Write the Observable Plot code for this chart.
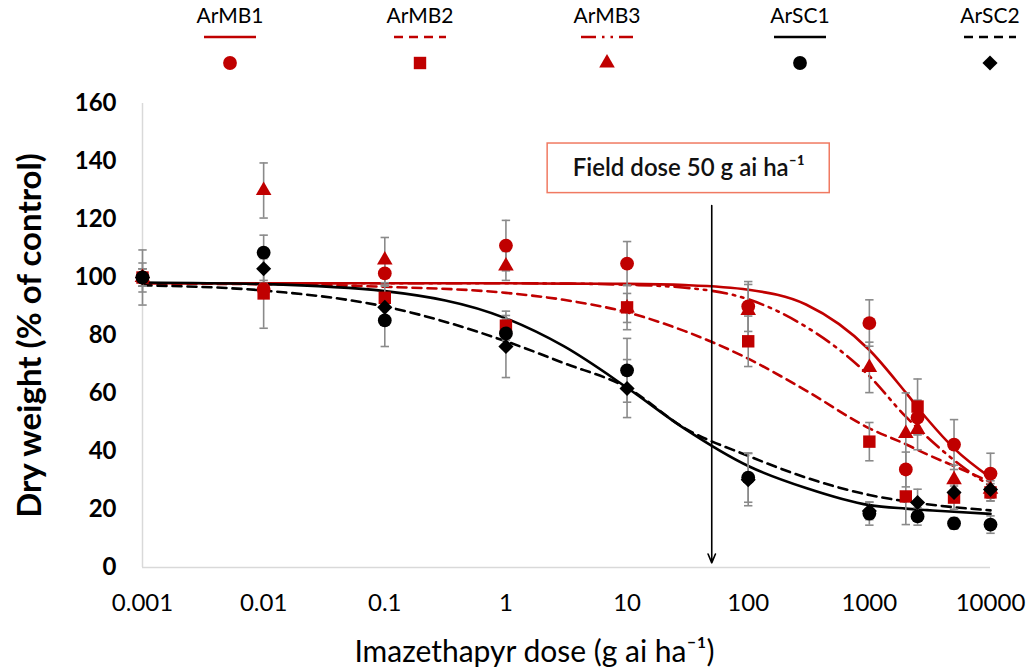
<!DOCTYPE html>
<html>
<head>
<meta charset="utf-8">
<script src="https://cdn.jsdelivr.net/npm/d3@7"></script>
<script src="https://cdn.jsdelivr.net/npm/@observablehq/plot@0.6"></script>
<style>
  body { margin: 0; background: #fff; font-family: Lato, "Open Sans", sans-serif; }
  #wrap { position: relative; width: 1026px; height: 670px; overflow: hidden; }
  #legend { position: relative; width: 1026px; height: 85px; }
  .item { position: absolute; top: 0; width: 100px; margin-left: -50px; text-align: center; }
  .item .lab { position: absolute; top: 3px; left: 0; width: 100px; font-size: 21px; line-height: 24px; color: #000; }
  .item svg { position: absolute; top: 26px; left: 0; }
</style>
</head>
<body>
<div id="wrap">
  <div id="legend"></div>
  <div id="chart"></div>
</div>
<script>
// ---------------- data ----------------
const populations = ["ArMB1", "ArMB2", "ArMB3", "ArSC1", "ArSC2"];
const doses = [0.001, 0.01, 0.1, 1, 10, 100, 1000, 2000, 2500, 5000, 10000];

const armb1 = [100, 96, 101.4, 111, 104.8, 90, 84.3, 33.8, 51.7, 42.4, 32.4];
const armb1Se = [3, 3, 4, 8.7, 7.6, 8.6, 8, 6, 6, 8.6, 7];
const armb2 = [100, 94.5, 93, 83.4, 89.7, 78, 43.4, 24.5, 55.5, 24.1, 25.9];
const armb2Se = [3, 12, 4, 5, 7.7, 8.7, 6.6, 9.7, 9.5, 4, 3];
const armb3 = [100, 130, 106, 104, 89.5, 88.6, 69, 46.2, 47.6, 30.3, 27];
const armb3Se = [3, 9.5, 7.8, 5, 5, 9, 8.7, 14, 7, 5, 4];
const arsc1 = [100, 108.6, 85.2, 80.7, 68, 31, 18.6, null, 17.6, 15.2, 14.8];
const arsc1Se = [9.5, 6, 9, 5, 11, 8.5, 4, null, 3, 2, 3];
const arsc2 = [100, 103, 89.7, 76.2, 61.7, 30.3, 19.5, null, 22.4, 25.9, 26.9];
const arsc2Se = [5, 5, 5, 10.7, 10, 9, 3, null, 4.6, 3, 3];

// fitted dose-response curves
const curveDoses = [0.001, 0.01, 0.1, 1, 3, 10, 30, 100, 300, 1000, 2000, 3000, 5000, 10000];
const armb1Fit = [98, 98, 98, 98, 97.9, 97.8, 97.4, 95.8, 90.7, 75, 60.3, 51.2, 41.1, 31];
const armb2Fit = [97.9, 97.7, 96.8, 94.7, 92.3, 88, 81.5, 72, 61, 48, 42.5, 39, 35, 29.5];
const armb3Fit = [98, 98, 98, 98, 97.9, 97.5, 96.5, 92.5, 83, 66, 52, 45, 37, 28];
const arsc1Fit = [98.3, 97.7, 95.3, 85.9, 76.3, 62, 47.8, 35, 27.4, 21.5, 20.3, 19.8, 19.2, 18.5];
const arsc2Fit = [97.3, 95.5, 90, 78, 70.5, 62, 48, 38.5, 31, 25, 22.8, 21.8, 20.8, 19.7];

const xTicks = [0.001, 0.01, 0.1, 1, 10, 100, 1000, 10000];
const yTicks = [0, 20, 40, 60, 80, 100, 120, 140, 160];

const fieldDose = 50;
const fieldLabel = "Field dose 50 g ai ha⁻¹";
const xTitle = "Imazethapyr dose (g ai ha⁻¹)";
const yTitle = "Dry weight (% of control)";

// ---------------- styling ----------------
const red = "#c00000";
const series = [
  {name: "ArMB1", mean: armb1, se: armb1Se, fit: armb1Fit, color: red, symbol: "circle", r: 6.9, dash: null, legendX: 230},
  {name: "ArMB2", mean: armb2, se: armb2Se, fit: armb2Fit, color: red, symbol: "square", r: 7.0, dash: "9,6", legendX: 420},
  {name: "ArMB3", mean: armb3, se: armb3Se, fit: armb3Fit, color: red, symbol: "triangle", r: 5.8, dash: "15,6,2.5,6,2.5,6", legendX: 607},
  {name: "ArSC1", mean: arsc1, se: arsc1Se, fit: arsc1Fit, color: "#000", symbol: "circle", r: 6.9, dash: null, legendX: 800},
  {name: "ArSC2", mean: arsc2, se: arsc2Se, fit: arsc2Fit, color: "#000", symbol: "diamond2", r: 6.8, dash: "9,6", legendX: 990}
];

const points = series.flatMap(s => doses.map((d, i) => ({pop: s.name, dose: d, mean: s.mean[i], se: s.se[i]})).filter(p => p.mean != null));
const fits = series.flatMap(s => curveDoses.map((d, i) => ({pop: s.name, dose: d, value: s.fit[i]})));

const capSymbol = {
  draw(context, size) {
    const r = Math.sqrt(size / Math.PI);
    context.moveTo(-r, 0);
    context.lineTo(r, 0);
  }
};

const errColor = "#8a8a8a";
const drawOrder = ["ArMB1", "ArMB3", "ArMB2", "ArSC1", "ArSC2"];

const marks = [
  Plot.ruleY([0], {stroke: "#d9d9d9", strokeWidth: 1.5}),
  Plot.ruleX([xTicks[0]], {stroke: "#d9d9d9", strokeWidth: 1.5}),
  Plot.axisY({ticks: yTicks, tickSize: 0, tickPadding: 26, fontSize: 24, fontWeight: "bold", label: null}),
  Plot.axisX({ticks: xTicks, tickSize: 0, tickPadding: 26, fontSize: 24, label: null, tickFormat: d => String(d)}),
  Plot.text([yTitle], {frameAnchor: "left", textAnchor: "middle", lineAnchor: "middle", rotate: -90, dx: -112, fontSize: 33, fontWeight: "bold"}),
  Plot.text([xTitle], {frameAnchor: "bottom", textAnchor: "middle", lineAnchor: "middle", dx: -32, dy: 85, fontSize: 30}),
  ...series.map(s => Plot.line(fits.filter(f => f.pop === s.name), {
    x: "dose", y: "value", stroke: s.color, strokeWidth: 2.6, strokeDasharray: s.dash, curve: "monotone-x"
  })),
  Plot.ruleX(points, {x: "dose", y1: d => d.mean - d.se, y2: d => d.mean + d.se, stroke: errColor, strokeWidth: 1.6}),
  Plot.dot(points, {x: "dose", y: d => d.mean + d.se, symbol: capSymbol, r: 4.2, stroke: errColor, strokeWidth: 1.6, fill: "none"}),
  Plot.dot(points, {x: "dose", y: d => d.mean - d.se, symbol: capSymbol, r: 4.2, stroke: errColor, strokeWidth: 1.6, fill: "none"}),
  ...drawOrder.map(n => series.find(s => s.name === n)).map(s => Plot.dot(points.filter(p => p.pop === s.name), {
    x: "dose", y: "mean", symbol: s.symbol, r: s.r, fill: s.color, stroke: "none"
  })),
  Plot.arrow([fieldDose], {x1: d => d, x2: d => d, y1: 124.8, y2: 1.6, stroke: "#000", strokeWidth: 1.6, headLength: 9, headAngle: 45}),
  Plot.rect([fieldLabel], {x1: 2.21, x2: 471, y1: 129.1, y2: 146.2, fill: "#fff", stroke: "#f07a62", strokeWidth: 1.5}),
  Plot.text([fieldLabel], {x: 32.3, y: 137.7, fontSize: 24, fontWeight: 600, fill: "#111"})
];

const chart = Plot.plot({
  width: 1026,
  height: 585,
  marginLeft: 142,
  marginRight: 36,
  marginTop: 18,
  marginBottom: 103,
  style: {fontFamily: "Lato, 'Open Sans', sans-serif", color: "#000", background: "#fff", overflow: "visible"},
  x: {type: "log", domain: [0.001, 10000]},
  y: {domain: [0, 160]},
  marks
});
document.getElementById("chart").appendChild(chart);

// ---------------- legend ----------------
const legend = d3.select("#legend");
const symbolTypes = {circle: d3.symbolCircle, square: d3.symbolSquare, triangle: d3.symbolTriangle, diamond2: d3.symbolDiamond2};
for (const s of series) {
  const item = legend.append("div").attr("class", "item").style("left", s.legendX + "px");
  item.append("div").attr("class", "lab").text(s.name);
  const svg = item.append("svg").attr("width", 100).attr("height", 50);
  svg.append("line").attr("x1", 24).attr("x2", 76).attr("y1", 11).attr("y2", 11)
    .attr("stroke", s.color).attr("stroke-width", 2.6).attr("stroke-dasharray", s.dash);
  svg.append("path").attr("transform", "translate(50,37)")
    .attr("d", d3.symbol(symbolTypes[s.symbol], Math.PI * s.r * s.r)())
    .attr("fill", s.color);
}
</script>
</body>
</html>
